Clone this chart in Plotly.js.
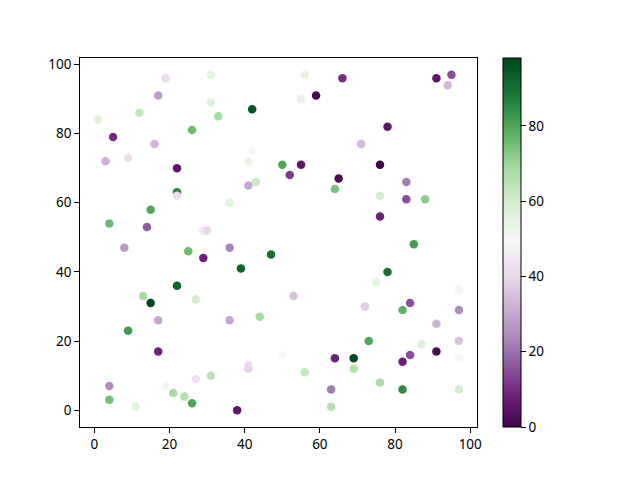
<!DOCTYPE html>
<html>
<head>
<meta charset="utf-8">
<script src="https://cdn.plot.ly/plotly-3.0.1.min.js"></script>
<style>html,body{margin:0;padding:0;background:#fff;}#chart{width:640px;height:480px;}</style>
</head>
<body>
<div id="chart"></div>
<script>
const xs = [19,31,17,31,12,33,1,26,5,16,9,3,22,22,22,15,4,14,29,30,8,56,66,55,59,42,42,41,50,55,52,41,43,65,64,36,36,91,95,94,78,71,76,83,76,83,88,76,85,25,29,22,13,15,27,17,9,17,31,27,4,19,21,24,26,4,11,47,39,53,36,44,50,41,41,56,64,69,69,63,63,38,78,75,97,72,84,82,97,91,73,87,97,91,84,82,97,76,82,97];
const ys = [96,97,91,89,86,85,84,81,79,77,73,72,70,63,62,58,54,53,52,52,47,97,96,90,91,87,75,72,71,71,68,65,66,67,64,60,47,96,97,94,82,77,71,66,62,61,61,56,48,46,44,36,33,31,32,26,23,17,10,9,7,7,5,4,2,3,1,45,41,33,26,27,16,13,12,11,15,15,12,6,1,0,40,37,35,30,31,29,29,25,20,19,20,17,16,14,15,8,6,6];
const cs = [42,55,28,57,63,68,56,76,10,33,42,32,5,86,42,80,76,17,45,40,27,54,10,45,2,95,50,53,80,5,12,30,62,2,74,57,24,5,15,33,5,34,0,22,60,15,72,8,82,76,8,92,68,98,60,30,82,8,65,43,25,51,68,66,80,75,57,90,92,35,30,68,49,42,40,63,8,97,66,22,66,5,90,55,50,38,15,78,25,32,80,58,35,2,15,7,49,68,85,60];
const prgn = ['#40004b','#762a83','#9970ab','#c2a5cf','#e7d4e8','#f7f7f7','#d9f0d3','#a6dba0','#5aae61','#1b7837','#00441b'];
const colorscale = prgn.map((c,i)=>[i/(prgn.length-1), c]);
const font = {family: 'Noto Sans, DejaVu Sans, sans-serif', size: 13.5, color: '#000'};
const trace = {
  type: 'scatter', mode: 'markers', x: xs, y: ys,
  marker: {
    size: 8.5, color: cs, colorscale: colorscale, cmin: 0, cmax: 98,
    line: {width: 0},
    colorbar: {
      x: 1.0655, xanchor: 'left', xpad: 0, ypad: 0, y: 0.5, yanchor: 'middle',
      len: 1, lenmode: 'fraction', thickness: 18, thicknessmode: 'pixels',
      outlinewidth: 1, outlinecolor: '#000',
      tickmode: 'array', tickvals: [0,20,40,60,80], ticks: 'outside', ticklen: 4.9, tickwidth: 1, tickcolor: '#000',
      tickfont: font
    }
  },
  hoverinfo: 'none'
};
const axisCommon = {
  showgrid: false, zeroline: false, showline: true, mirror: true, linecolor: '#000', linewidth: 1,
  ticks: 'outside', ticklen: 4.9, tickwidth: 1, tickcolor: '#000', tickfont: font
};
const layout = {
  width: 640, height: 480,
  margin: {l: 80, r: 163.2, t: 57.6, b: 52.8, pad: 0},
  paper_bgcolor: '#fff', plot_bgcolor: '#fff',
  showlegend: false,
  xaxis: Object.assign({}, axisCommon, {range: [-3.8, 101.8], tickvals: [0,20,40,60,80,100]}),
  yaxis: Object.assign({}, axisCommon, {range: [-4.85, 101.85], tickvals: [0,20,40,60,80,100]})
};
Plotly.newPlot('chart', [trace], layout, {staticPlot: true, displayModeBar: false});
</script>
</body>
</html>
